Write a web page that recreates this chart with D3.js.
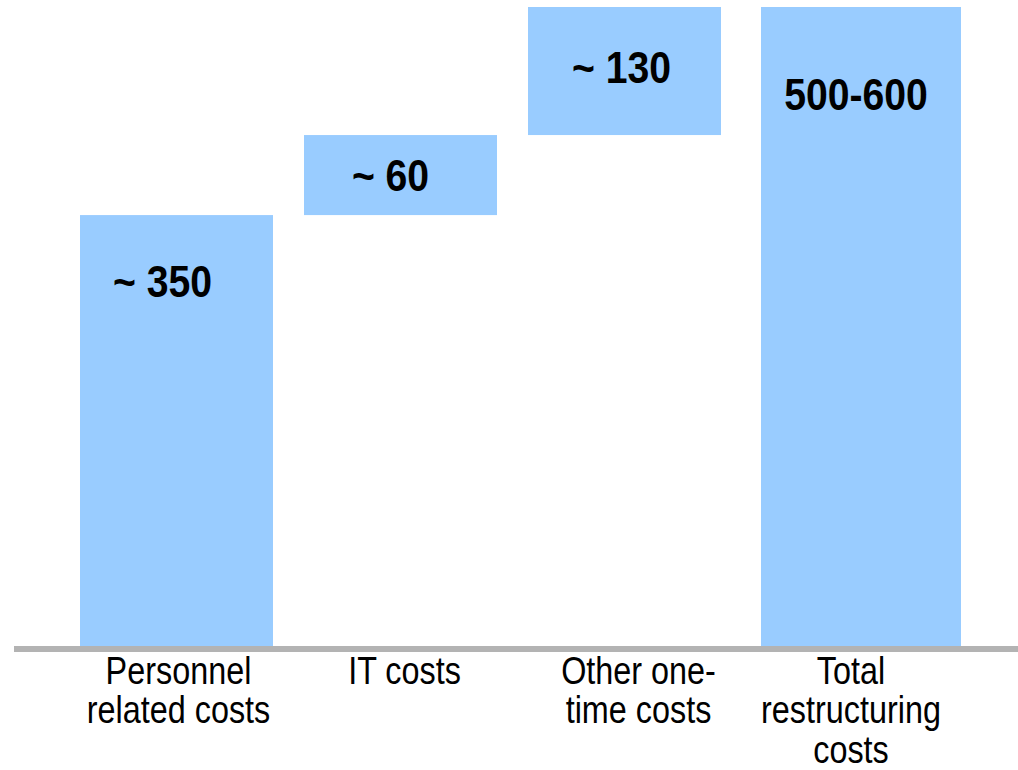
<!DOCTYPE html>
<html>
<head>
<meta charset="utf-8">
<script src="https://cdn.jsdelivr.net/npm/d3@7"></script>
<style>
  html, body { margin: 0; padding: 0; background: #ffffff; }
  svg { display: block; }
  .cat { font-family: "Liberation Sans", Arial, sans-serif; font-size: 38px; fill: #000; }
  .val { font-family: "Liberation Sans", Arial, sans-serif; font-size: 45px; font-weight: bold; fill: #000; }
</style>
</head>
<body>
<svg id="chart" width="1018" height="770"></svg>
<script>
// ---- data ----
const categories = ["Personnel related costs", "IT costs", "Other one-time costs", "Total restructuring costs"];
const categoryLines = [["Personnel", "related costs"], ["IT costs"], ["Other one-", "time costs"], ["Total", "restructuring", "costs"]];
const increments = [350, 65, 104];          // plotted step heights
const totalValue = 519;                      // plotted total height
const valueLabels = ["~ 350", "~ 60", "~ 130", "500-600"];

// ---- layout ----
const W = 1018, H = 770;
const baseY = 646, topY = 7;
const barColor = "#99ccff";
const axisColor = "#b3b3b3";
const labelDx = [-14, -10, -3, -5];
const labelBaseline = [297, 191, 83, 110];
const catDx = [2, 4, 14, -10];
const condenseCat = 0.852, condenseVal = 0.87;
const totalShift = 9, totalExtra = 7;

const svg = d3.select("#chart");

// build waterfall segments
let running = 0;
const segs = increments.map((v, i) => {
  const s = { cat: categories[i], y0: running, y1: running + v, label: valueLabels[i], total: false };
  running += v;
  return s;
});
segs.push({ cat: categories[3], y0: 0, y1: totalValue, label: valueLabels[3], total: true });

const x = d3.scaleBand()
  .domain(categories)
  .range([80, 945])
  .paddingInner(31 / 224)
  .paddingOuter(0);

const y = d3.scaleLinear()
  .domain([0, totalValue])
  .range([baseY, topY]);

const bx = d => x(d.cat) + (d.total ? totalShift : 0);
const bw = d => x.bandwidth() + (d.total ? totalExtra : 0);
const cx = d => bx(d) + bw(d) / 2;

// bars
svg.append("g").selectAll("rect")
  .data(segs)
  .join("rect")
  .attr("x", bx)
  .attr("width", bw)
  .attr("y", d => y(d.y1))
  .attr("height", d => y(d.y0) - y(d.y1))
  .attr("fill", barColor);

// baseline
svg.append("line")
  .attr("x1", 14).attr("x2", W)
  .attr("y1", y(0) + 3).attr("y2", y(0) + 3)
  .attr("stroke", axisColor)
  .attr("stroke-width", 6);

// value labels
svg.append("g").selectAll("text")
  .data(segs)
  .join("text")
  .attr("class", "val")
  .attr("text-anchor", "middle")
  .attr("transform", (d, i) => `translate(${cx(d) + labelDx[i]},${labelBaseline[i]}) scale(${condenseVal},1)`)
  .text(d => d.label);

// category labels
const catG = svg.append("g");
segs.forEach((d, i) => {
  const t = catG.append("text")
    .attr("class", "cat")
    .attr("text-anchor", "middle")
    .attr("transform", `translate(${cx(d) + catDx[i]},684) scale(${condenseCat},1)`);
  categoryLines[i].forEach((ln, j) => {
    t.append("tspan")
      .attr("x", 0)
      .attr("dy", j === 0 ? 0 : 39.5)
      .text(ln);
  });
});
</script>
</body>
</html>
